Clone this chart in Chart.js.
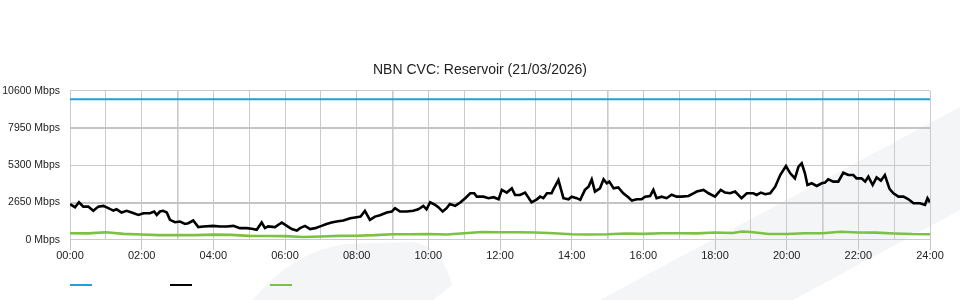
<!DOCTYPE html>
<html>
<head>
<meta charset="utf-8">
<script src="https://cdn.jsdelivr.net/npm/chart.js@4.4.1/dist/chart.umd.min.js"></script>
<style>
    html, body { margin: 0; padding: 0; background: #fff; }
    #wrap { position: relative; width: 960px; height: 300px; overflow: hidden; }
    #bg, #chart { position: absolute; left: 0; top: 0; }
</style>
</head>
<body>
<div id="wrap">
    <!-- faint background swooshes -->
    <svg id="bg" width="960" height="300">
        <polygon points="600,300 960,107 960,210 793,300" fill="#f4f5f7"/>
        <path d="M253,300 Q292,252 345,244 L413,242 Q442,246 452,285 L433,300 Z" fill="#f4f5f7"/>
    </svg>
    <canvas id="chart" width="960" height="300"></canvas>
</div>
<script>
// ─── Data (hours of the day, Mbps) ────────────────────────────────────────

const chartTitle = 'NBN CVC: Reservoir (21/03/2026)';

const yTicks = [0, 2650, 5300, 7950, 10600];

const capacityHours = [0, 24];
const capacityMbps  = [10000, 10000];

const trafficHours = [
    0.00, 0.14, 0.25, 0.37, 0.51, 0.65, 0.79, 0.93, 1.07, 1.21, 1.30, 1.44, 1.58, 1.72, 1.91,
    2.05, 2.23, 2.35, 2.42, 2.51, 2.60, 2.70, 2.79, 2.93, 3.07, 3.21, 3.30, 3.44, 3.58, 3.72,
    4.00, 4.19, 4.37, 4.56, 4.74, 4.93, 5.07, 5.21, 5.35, 5.44, 5.53, 5.72, 5.91, 6.05, 6.19,
    6.33, 6.42, 6.56, 6.70, 6.84, 7.02, 7.16, 7.30, 7.44, 7.63, 7.82, 8.00, 8.11, 8.23, 8.37,
    8.51, 8.65, 8.84, 8.98, 9.07, 9.21, 9.40, 9.58, 9.72, 9.86, 9.95, 10.05, 10.19, 10.28, 10.40,
    10.51, 10.60, 10.75, 10.89, 11.03, 11.17, 11.28, 11.35, 11.54, 11.68, 11.82, 11.96, 12.05, 12.19, 12.33,
    12.42, 12.56, 12.70, 12.88, 13.03, 13.12, 13.21, 13.31, 13.44, 13.49, 13.63, 13.77, 13.91, 14.00, 14.14,
    14.24, 14.37, 14.47, 14.56, 14.65, 14.79, 14.89, 14.98, 15.05, 15.17, 15.30, 15.44, 15.58, 15.68, 15.82,
    15.95, 16.05, 16.19, 16.28, 16.37, 16.51, 16.65, 16.79, 16.93, 17.07, 17.26, 17.40, 17.49, 17.68, 17.82,
    18.00, 18.16, 18.28, 18.42, 18.56, 18.74, 18.89, 19.07, 19.16, 19.28, 19.40, 19.54, 19.68, 19.82, 19.98,
    20.10, 20.23, 20.33, 20.42, 20.51, 20.58, 20.70, 20.84, 20.98, 21.07, 21.16, 21.30, 21.44, 21.58, 21.72,
    21.86, 21.95, 22.09, 22.19, 22.28, 22.40, 22.51, 22.63, 22.74, 22.87, 22.98, 23.12, 23.26, 23.40, 23.54,
    23.72, 23.86, 23.93, 24.00
];
const trafficMbps = [
    2530, 2320, 2670, 2360, 2360, 2060, 2360, 2410, 2250, 2080, 2170, 1940, 2060, 1940, 1770,
    1890, 1890, 2010, 1770, 2010, 2060, 1940, 1420, 1250, 1300, 1130, 1180, 1370, 900, 950,
    990, 950, 950, 990, 830, 830, 780, 710, 1230, 830, 950, 900, 1230, 990, 760,
    660, 830, 990, 760, 830, 990, 1130, 1230, 1300, 1370, 1540, 1610, 1650, 2060, 1420,
    1650, 1750, 1940, 2010, 2250, 2010, 2010, 2060, 2170, 2410, 2170, 2670, 2480, 2320, 2010,
    2250, 2550, 2410, 2650, 2960, 3310, 3310, 3070, 3070, 2960, 3030, 2880, 3550, 3360, 3660,
    3190, 3190, 3360, 2670, 2880, 3070, 2960, 3310, 3310, 3590, 4250, 2960, 2880, 3070, 2960,
    2840, 3550, 3780, 4300, 3430, 3660, 4300, 4020, 4140, 3660, 3730, 3310, 3030, 2790, 2880,
    2880, 3070, 3120, 3550, 2960, 3070, 2960, 3210, 3070, 3070, 3120, 3310, 3430, 3550, 3310,
    3070, 3550, 3360, 3310, 3430, 2960, 3310, 3310, 3190, 3360, 3240, 3310, 3780, 4610, 5250,
    4730, 4370, 5200, 5440, 4730, 3900, 4020, 3830, 4020, 4070, 4300, 4140, 4140, 4770, 4610,
    4610, 4370, 4370, 4140, 4490, 3900, 4440, 4210, 4610, 3620, 3310, 3070, 3070, 2880, 2600,
    2600, 2480, 2960, 2670
];

const uploadHours = [
    0, 0.5, 1, 1.5, 2, 2.5, 3, 3.5, 4, 4.5, 5, 5.5, 6, 6.5, 7, 7.5, 8, 8.5, 9, 9.5, 10, 10.5,
    11, 11.5, 12, 12.5, 13, 13.5, 14, 14.5, 15, 15.5, 16, 16.5, 17, 17.5, 18, 18.5, 18.75, 19, 19.5,
    20, 20.5, 21, 21.5, 22, 22.5, 23, 23.5, 24
];
const uploadMbps = [
    470, 460, 540, 420, 380, 330, 330, 330, 370, 350, 280, 270, 260, 200, 240, 280, 290, 330, 400, 400, 410, 380,
    470, 550, 540, 540, 520, 470, 400, 380, 390, 450, 420, 470, 470, 460, 520, 480, 590, 560, 410,
    410, 470, 470, 570, 520, 510, 450, 410, 400
];

// ─── Helpers ──────────────────────────────────────────────────────────────

const FONT = '"Liberation Sans", Arial, sans-serif';

function toPoints(xs, ys) {
    return xs.map((x, i) => ({ x, y: ys[i] }));
}

function hourLabel(h) {
    return String(h).padStart(2, '0') + ':00';
}

// every 6th hour (03, 09, 15, 21) and the 7950/2650 rows are drawn heavier
const heavyX = (c) => c.tick && c.tick.value % 6 === 3;
const heavyY = (c) => c.tick && (c.tick.value === 7950 || c.tick.value === 2650);

// legend: short swatches only, no text, spaced from the plot's left edge
const swatchLegend = {
    id: 'swatchLegend',
    afterDraw(chart) {
        const { ctx, chartArea } = chart;
        ctx.save();
        chart.data.datasets.forEach((ds, i) => {
            const x = chartArea.left + i * 100;
            ctx.strokeStyle = ds.borderColor;
            ctx.lineWidth = 2;
            ctx.beginPath();
            ctx.moveTo(x, chart.height - 15);
            ctx.lineTo(x + 22, chart.height - 15);
            ctx.stroke();
        });
        ctx.restore();
    }
};

// ─── Chart ────────────────────────────────────────────────────────────────

new Chart(document.getElementById('chart'), {
    type: 'line',
    data: {
        datasets: [
            {
                label: '',
                data: toPoints(capacityHours, capacityMbps),
                borderColor: '#1ea1de',
                borderWidth: 2.2,
                pointRadius: 0
            },
            {
                label: '',
                data: toPoints(trafficHours, trafficMbps),
                borderColor: '#000000',
                borderWidth: 2.6,
                pointRadius: 0,
                tension: 0
            },
            {
                label: '',
                data: toPoints(uploadHours, uploadMbps),
                borderColor: '#7cc142',
                borderWidth: 2.6,
                pointRadius: 0,
                tension: 0
            }
        ]
    },
    options: {
        responsive: false,
        animation: false,
        layout: { padding: { left: 0, right: 0, top: 0, bottom: 37 } },
        plugins: {
            legend: { display: false },
            tooltip: { enabled: false },
            title: {
                display: true,
                text: chartTitle,
                color: '#222',
                font: { family: FONT, size: 14, weight: 'normal' },
                padding: { top: 62, bottom: 12 }
            }
        },
        scales: {
            x: {
                type: 'linear',
                min: 0,
                max: 24,
                ticks: {
                    stepSize: 1,
                    maxTicksLimit: 30,
                    autoSkip: false,
                    maxRotation: 0,
                    padding: 0,
                    color: '#222',
                    font: { family: FONT, size: 11 },
                    callback: (v) => (v % 2 === 0 ? hourLabel(v) : '')
                },
                grid: {
                    color: (c) => (heavyX(c) ? '#cacaca' : '#cbcbcb'),
                    lineWidth: (c) => (heavyX(c) ? 1.6 : 1),
                    tickLength: 10,
                    tickColor: (c) => (c.tick && c.tick.value % 2 === 0 ? '#c4c4c4' : 'rgba(0,0,0,0)'),
                    tickWidth: 1
                },
                border: { display: false }
            },
            y: {
                min: 0,
                max: 10600,
                afterFit: (s) => { s.width = 70; },
                ticks: {
                    stepSize: 2650,
                    maxTicksLimit: 30,
                    padding: 10,
                    color: '#222',
                    font: { family: FONT, size: 10.5 },
                    callback: (v) => (yTicks.includes(v) ? v + ' Mbps' : '')
                },
                grid: {
                    color: (c) => (heavyY(c) ? '#c4c4c4' : '#cbcbcb'),
                    lineWidth: (c) => (heavyY(c) ? 2 : 1),
                    drawTicks: false
                },
                border: { display: false }
            },
            // empty right-hand gutter so the title stays centred on the canvas
            gutter: {
                position: 'right',
                min: 0,
                max: 10600,
                afterFit: (s) => { s.width = 30; },
                ticks: { display: false },
                grid: { display: false },
                border: { display: false }
            }
        }
    },
    plugins: [swatchLegend]
});
</script>
</body>
</html>
